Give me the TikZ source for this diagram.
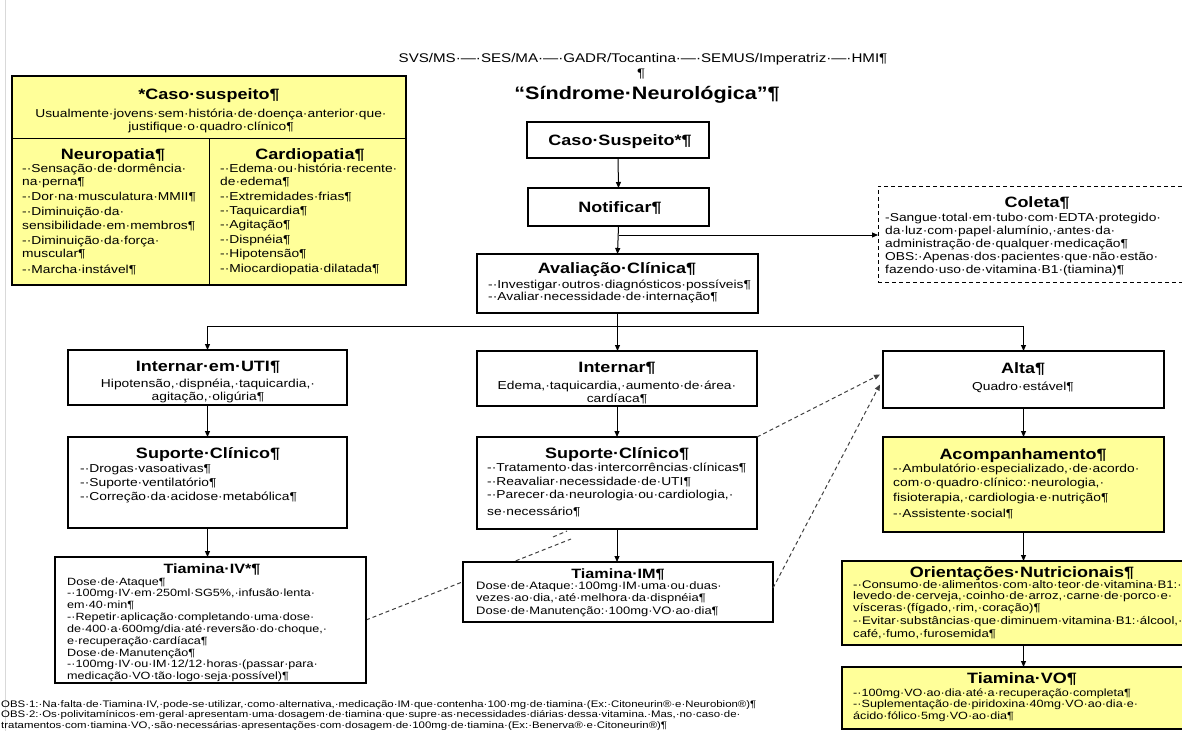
\documentclass[tikz,border=0pt]{standalone}
\usepackage{fontspec}
\setmainfont{Liberation Sans}[FakeStretch=1.2]
\usetikzlibrary{arrows.meta,calc,backgrounds}
\definecolor{ylw}{RGB}{255,255,153}
\newcommand\mkbx[6]{\node[#1, minimum width={(#5-#3)*1pt}, minimum height={(#6-#4)*1pt}] (#2) at ({(#3+#5)/2},{(#4+#6)/2}) {};}
\begin{document}
\begin{tikzpicture}[x=1pt,y=-1pt,
  bx/.style={draw=black, line width=1.1pt, fill=white, inner sep=0pt, outer sep=0pt},
  ybx/.style={bx, fill=ylw},
  dbx/.style={draw=black, line width=1pt, dash pattern=on 4pt off 3pt, fill=white, inner sep=0pt, outer sep=0pt},
  ttl/.style={font=\bfseries\fontsize{15}{17}\selectfont, inner sep=0pt, anchor=base},
  stl/.style={font=\bfseries\fontsize{13.5}{15}\selectfont, inner sep=0pt, anchor=base},
  itm/.style={font=\fontsize{11.5}{13.5}\selectfont, inner sep=0pt, anchor=base west, align=left, text width=340pt},
  sitm/.style={font=\fontsize{10.5}{11.6}\selectfont, inner sep=0pt, anchor=base west, align=left, text width=340pt},
  ctr/.style={font=\fontsize{11.5}{13.5}\selectfont, inner sep=0pt, anchor=base, align=center, text width=380pt},
  arr/.style={line width=1pt, -{Triangle[length=6pt,width=5pt]}},
  ln/.style={line width=1pt},
  dsh/.style={line width=1pt, dash pattern=on 4pt off 3pt, black!75},
]
\useasboundingbox (0,0) rectangle (1182,731);
\clip (0,0) rectangle (1182,731);
\draw[black!15, line width=1pt] (5,0) -- (5,731);

% header
\node[font=\fontsize{12.6}{14}\selectfont, inner sep=0pt, anchor=base] (hdr) at (643,62) {SVS/MS·—·SES/MA·—·GADR/Tocantina·—·SEMUS/Imperatriz·—·HMI¶};
\node[font=\fontsize{12.4}{14}\selectfont, inner sep=0pt, anchor=base] (pil) at (641,77) {¶};
\node[font=\bfseries\fontsize{18}{20}\selectfont, inner sep=0pt, anchor=base] (mt) at (647,99) {“Síndrome·Neurológica”¶};

% boxes
\mkbx{ybx}{csY}{12}{76}{406}{285}
\coordinate (dv) at (209,138);
\draw[ln] (csY.west |- dv) -- (csY.east |- dv);
\draw[ln] (dv) -- (dv |- csY.south);
\mkbx{bx}{cs}{527}{122}{709}{158}
\mkbx{bx}{nt}{528}{188}{709}{226}
\mkbx{bx}{av}{477}{254}{758}{313}
\mkbx{dbx}{co}{878}{186}{1192}{282}
\mkbx{bx}{uti}{68}{350}{347}{405}
\mkbx{bx}{int}{477}{351}{757}{406}
\mkbx{bx}{alt}{883}{351}{1164}{408}
\mkbx{bx}{spL}{68}{437}{347}{528}
\mkbx{bx}{spM}{477}{437}{757}{529}
\mkbx{ybx}{acp}{883}{437}{1164}{532}
\mkbx{bx}{tIV}{55}{557}{366}{683}
\mkbx{bx}{tIM}{463}{562}{773}{622}
\mkbx{ybx}{ori}{842}{561}{1195}{645}
\mkbx{ybx}{tVO}{842}{667}{1195}{729}

% dashed connectors behind boxes
\begin{pgfonlayer}{background}
\coordinate (dE) at ($(spM.south)+(-46,10)$);
\coordinate (dA) at ($(spM.south)+(-64,8)$);
\coordinate (dB) at ($(spM.south)+(-50,2)$);
\draw[dsh] (tIV.east) -- (dE);
\draw[dsh] (dA) -- (dB);
\end{pgfonlayer}
\draw[dsh, -{Triangle[length=6pt,width=5pt]}] (spM.north east) -- ($(alt.west)+(-3,-5)$);
\draw[dsh, -{Triangle[length=6pt,width=5pt]}] ($(tIM.east)+(0,-4)$) -- ($(alt.west)+(-3,5)$);

% solid connectors
\draw[arr] (cs.south) -- (nt.north);
\draw[arr] (nt.south) -- (av.north);
\coordinate (br) at ($(nt.south)+(0,9)$);
\draw[arr] (br) -- (br -| co.west);
\coordinate (hl) at ($(av.south)+(0,13)$);
\draw[ln] (av.south) -- (hl);
\draw[ln] (hl -| uti.north) -- (hl -| alt.north);
\draw[arr] (hl -| uti.north) -- (uti.north);
\draw[arr] (hl) -- (hl |- int.north);
\draw[arr] (hl -| alt.north) -- (alt.north);
\draw[arr] (uti.south) -- (spL.north);
\draw[arr] (int.south) -- (spM.north);
\draw[arr] (alt.south) -- (acp.north);
\draw[arr] (spL.south) -- (spL.south |- tIV.north);
\draw[arr] (spM.south) -- (spM.south |- tIM.north);
\draw[arr] (acp.south) -- (acp.south |- ori.north);
\draw[arr] (acp.south |- ori.south) -- (acp.south |- tVO.north);

% texts: Caso suspeito (left)
\node[ttl] (t1) at (209,99) {*Caso·suspeito¶};
\node[ctr] (t1b) at (211,117) {Usualmente·jovens·sem·história·de·doença·anterior·que·\\justifique·o·quadro·clínico¶};
\node[ttl] (t2) at (113,159) {Neuropatia¶};
\node[itm] (t2b) at (22,172) {-·Sensação·de·dormência·\\na·perna¶\\[1.5pt]-·Dor·na·musculatura·MMII¶\\[1.5pt]-·Diminuição·da·\\sensibilidade·em·membros¶\\[1.5pt]-·Diminuição·da·força·\\muscular¶\\[2pt]-·Marcha·instável¶};
\node[ttl] (t3) at (310,159) {Cardiopatia¶};
\node[itm] (t3b) at (220,172) {-·Edema·ou·história·recente·\\de·edema¶\\[1.5pt]-·Extremidades·frias¶\\[0.5pt]-·Taquicardia¶\\[0.5pt]-·Agitação¶\\[1pt]-·Dispnéia¶\\[0.5pt]-·Hipotensão¶\\[2pt]-·Miocardiopatia·dilatada¶};

% central flow
\node[ttl] (t4) at (620,145) {Caso·Suspeito*¶};
\node[ttl] (t5) at (620,212) {Notificar¶};
\node[ttl] (t6) at (617,273) {Avaliação·Clínica¶};
\node[itm, font=\fontsize{11.5}{12}\selectfont] (t6b) at (488,288) {-·Investigar·outros·diagnósticos·possíveis¶\\-·Avaliar·necessidade·de·internação¶};
\node[ttl] (t7) at (1037,207) {Coleta¶};
\node[itm, font=\fontsize{11.5}{13}\selectfont] (t7b) at (885,221) {-Sangue·total·em·tubo·com·EDTA·protegido·\\da·luz·com·papel·alumínio,·antes·da·\\administração·de·qualquer·medicação¶\\OBS:·Apenas·dos·pacientes·que·não·estão·\\fazendo·uso·de·vitamina·B1·(tiamina)¶};

% row 2
\node[ttl] (t8) at (208,371) {Internar·em·UTI¶};
\node[ctr, font=\fontsize{11.5}{13}\selectfont] (t8b) at (208,387) {Hipotensão,·dispnéia,·taquicardia,·\\agitação,·oligúria¶};
\node[ttl] (t9) at (617,372) {Internar¶};
\node[ctr, font=\fontsize{11.5}{13}\selectfont] (t9b) at (617,389) {Edema,·taquicardia,·aumento·de·área·\\cardíaca¶};
\node[ttl] (t10) at (1023,373) {Alta¶};
\node[ctr] (t10b) at (1023,390) {Quadro·estável¶};

% row 3
\node[ttl] (t11) at (208,458) {Suporte·Clínico¶};
\node[itm, font=\fontsize{11.5}{14}\selectfont] (t11b) at (80,472) {-·Drogas·vasoativas¶\\-·Suporte·ventilatório¶\\-·Correção·da·acidose·metabólica¶};
\node[ttl] (t12) at (617,458) {Suporte·Clínico¶};
\node[itm, font=\fontsize{11.5}{14}\selectfont] (t12b) at (487,471) {-·Tratamento·das·intercorrências·clínicas¶\\-·Reavaliar·necessidade·de·UTI¶\\[-1pt]-·Parecer·da·neurologia·ou·cardiologia,·\\[3pt]se·necessário¶};
\node[ttl] (t13) at (1023,459) {Acompanhamento¶};
\node[itm, font=\fontsize{11.5}{14}\selectfont] (t13b) at (893,472) {-·Ambulatório·especializado,·de·acordo·\\com·o·quadro·clínico:·neurologia,·\\[1pt]fisioterapia,·cardiologia·e·nutrição¶\\[2pt]-·Assistente·social¶};

% row 4
\node[stl] (t14) at (212,573) {Tiamina·IV*¶};
\node[sitm] (t14b) at (67,585) {Dose·de·Ataque¶\\-·100mg·IV·em·250ml·SG5\%,·infusão·lenta·\\em·40·min¶\\[1pt]-·Repetir·aplicação·completando·uma·dose·\\de·400·a·600mg/dia·até·reversão·do·choque,·\\e·recuperação·cardíaca¶\\[0.5pt]Dose·de·Manutenção¶\\-·100mg·IV·ou·IM·12/12·horas·(passar·para·\\medicação·VO·tão·logo·seja·possível)¶};
\node[stl] (t15) at (618,578) {Tiamina·IM¶};
\node[sitm, font=\fontsize{10.8}{12}\selectfont] (t15b) at (476,589) {Dose·de·Ataque:·100mg·IM·uma·ou·duas·\\vezes·ao·dia,·até·melhora·da·dispnéia¶\\[1pt]Dose·de·Manutenção:·100mg·VO·ao·dia¶};
\node[ttl] (t16) at (1022,577) {Orientações·Nutricionais¶};
\node[sitm, font=\fontsize{11}{11.8}\selectfont] (t16b) at (853,588) {-·Consumo·de·alimentos·com·alto·teor·de·vitamina·B1:·\\levedo·de·cerveja,·coinho·de·arroz,·carne·de·porco·e·\\vísceras·(fígado,·rim,·coração)¶\\[1pt]-·Evitar·substâncias·que·diminuem·vitamina·B1:·álcool,·\\[1pt]café,·fumo,·furosemida¶};
\node[stl, font=\bfseries\fontsize{15}{17}\selectfont] (t17) at (1022,683) {Tiamina·VO¶};
\node[sitm, font=\fontsize{10.5}{11.5}\selectfont] (t17b) at (853,696) {-·100mg·VO·ao·dia·até·a·recuperação·completa¶\\-·Suplementação·de·piridoxina·40mg·VO·ao·dia·e·\\ácido·fólico·5mg·VO·ao·dia¶};

% notes
\node[font=\fontsize{9.5}{10.5}\selectfont, inner sep=0pt, anchor=base west, align=left, text width=1100pt] (obs) at (1,707) {OBS·1:·Na·falta·de·Tiamina·IV,·pode-se·utilizar,·como·alternativa,·medicação·IM·que·contenha·100·mg·de·tiamina·(Ex:·Citoneurin®·e·Neurobion®)¶\\OBS·2:·Os·polivitamínicos·em·geral·apresentam·uma·dosagem·de·tiamina·que·supre·as·necessidades·diárias·dessa·vitamina.·Mas,·no·caso·de·\\tratamentos·com·tiamina·VO,·são·necessárias·apresentações·com·dosagem·de·100mg·de·tiamina·(Ex:·Benerva®·e·Citoneurin®)¶};
\end{tikzpicture}
\end{document}
